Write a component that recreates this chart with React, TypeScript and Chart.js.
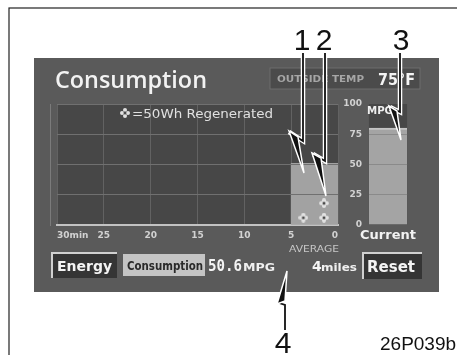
import React, { useEffect, useRef } from 'react';
import { Chart, registerables } from 'chart.js';

Chart.register(...registerables);

// ---- data ----
const intervalEnds = [25, 20, 15, 10, 5, 0]; // minutes ago (end of each 5-min slot)
const consumption: (number | null)[] = [null, null, null, null, null, 51]; // MPG per slot
const regenMinutes = [3.7, 1.5, 1.5]; // position of each 50Wh regenerated mark
const regenLevels = [6, 6, 18];
const currentLabels = ['Current'];
const currentMpg = [80];
const xTickValues = [0, 5, 10, 15, 20, 25, 30];
const xTickLabels = ['0', '5', '10', '15', '20', '25', '30min'];
const yTickValues = [0, 25, 50, 75, 100];

const plotBg = {
  id: 'plotBg',
  beforeDraw(chart: any, _args: any, opts: any) {
    const { ctx, chartArea: a } = chart;
    ctx.save();
    ctx.fillStyle = opts.color || '#474747';
    ctx.fillRect(a.left, a.top, a.right - a.left, a.bottom - a.top);
    ctx.restore();
  },
};

function makeRegenIcon() {
  const c = document.createElement('canvas');
  c.width = 10;
  c.height = 10;
  const g = c.getContext('2d')!;
  g.fillStyle = '#e2e2e2';
  const lobes = [
    [5, 2.2],
    [5, 7.8],
    [2.2, 5],
    [7.8, 5],
  ];
  for (const [x, y] of lobes) {
    g.beginPath();
    g.arc(x, y, 2.1, 0, Math.PI * 2);
    g.fill();
  }
  g.fillStyle = '#4a4a4a';
  g.beginPath();
  g.arc(5, 5, 1.5, 0, Math.PI * 2);
  g.fill();
  return c;
}

const tickFont = { family: 'DejaVu Sans', size: 9, weight: 'bold' as const };

export default function App() {
  const mainRef = useRef<HTMLCanvasElement>(null);
  const curRef = useRef<HTMLCanvasElement>(null);

  useEffect(() => {
    const icon = makeRegenIcon();
    const main = new Chart(mainRef.current!, {
      type: 'bar',
      data: {
        datasets: [
          {
            type: 'bar',
            order: 1,
            data: intervalEnds.map((e, i) => ({ x: e + 2.5, y: consumption[i] as any })),
            backgroundColor: '#a2a2a2',
            borderWidth: 0,
            barPercentage: 1,
            categoryPercentage: 1,
          } as any,
          {
            type: 'scatter',
            order: 0,
            data: regenMinutes.map((m, i) => ({ x: m, y: regenLevels[i] })),
            pointStyle: icon,
            pointRadius: 5,
          } as any,
        ],
      },
      options: {
        animation: false,
        responsive: false,
        layout: { padding: { left: 7, top: 8, right: 8, bottom: 11 } },
        plugins: {
          legend: { display: false },
          tooltip: { enabled: false },
          plotBg: { color: '#474747' },
        } as any,
        scales: {
          x: {
            type: 'linear',
            min: 0,
            max: 30,
            reverse: true,
            offset: false,
            afterFit: (s: any) => {
              s.height = 20;
            },
            afterBuildTicks: (s: any) => {
              s.ticks = xTickValues.map((v) => ({ value: v }));
            },
            ticks: {
              stepSize: 5,
              align: 'inner',
              padding: 5,
              color: '#d2d2d2',
              font: tickFont,
              maxRotation: 0,
              callback: (v: any) => {
                const i = xTickValues.indexOf(Number(v));
                return i >= 0 ? xTickLabels[i] : '';
              },
            },
            grid: { color: '#626262', drawTicks: false, lineWidth: 1, offset: false },
            border: { color: '#c2c2c2', width: 2 },
          },
          y: {
            position: 'right',
            min: 0,
            max: 100,
            afterFit: (s: any) => {
              s.width = 24;
            },
            afterBuildTicks: (s: any) => {
              s.ticks = yTickValues.map((v) => ({ value: v }));
            },
            ticks: {
              stepSize: 25,
              crossAlign: 'far',
              padding: 2,
              color: '#d2d2d2',
              font: tickFont,
            },
            grid: {
              color: (c: any) => (c.tick && c.tick.value === 0 ? 'rgba(0,0,0,0)' : '#707070'),
              drawTicks: false,
              z: 1,
            } as any,
            border: { color: '#9c9c9c', width: 1 },
          },
        },
      } as any,
      plugins: [plotBg as any],
    });

    const cur = new Chart(curRef.current!, {
      type: 'bar',
      data: {
        labels: currentLabels,
        datasets: [
          {
            data: currentMpg,
            backgroundColor: '#a4a4a4',
            borderColor: '#c4c4c4',
            borderWidth: { top: 2, left: 0, right: 0, bottom: 0 },
            borderSkipped: false,
            barPercentage: 1,
            categoryPercentage: 1,
          } as any,
        ],
      },
      options: {
        animation: false,
        responsive: false,
        layout: { padding: { left: 4, top: 8, right: 5, bottom: 11 } },
        plugins: {
          legend: { display: false },
          tooltip: { enabled: false },
          plotBg: { color: '#474747' },
        } as any,
        scales: {
          x: {
            type: 'category',
            afterFit: (s: any) => {
              s.height = 20;
            },
            ticks: {
              padding: 3,
              color: '#f2f2f2',
              font: { family: 'DejaVu Sans', size: 13, weight: 'bold' },
              maxRotation: 0,
            },
            grid: { display: false, drawTicks: false },
            border: { display: false },
          },
          y: {
            min: 0,
            max: 100,
            afterFit: (s: any) => {
              s.width = 0;
            },
            afterBuildTicks: (s: any) => {
              s.ticks = yTickValues.map((v) => ({ value: v }));
            },
            ticks: { display: false, stepSize: 25 },
            grid: {
              color: (c: any) => (c.tick && (c.tick.value === 0 || c.tick.value === 100) ? 'rgba(0,0,0,0)' : '#8a8a8a'),
              drawTicks: false,
              z: 1,
            } as any,
            border: { display: false },
          },
        },
      } as any,
      plugins: [plotBg as any],
    });

    return () => {
      main.destroy();
      cur.destroy();
    };
  }, []);

  const sans = 'DejaVu Sans, Liberation Sans, sans-serif';
  const outline = (d: string) => (
    <g>
      <path d={d} fill="none" stroke="#ffffff" strokeWidth={4.5} strokeLinejoin="miter" />
      <path d={d} fill="none" stroke="#111111" strokeWidth={1.8} strokeLinejoin="miter" />
    </g>
  );
  const wedge = (pts: string) => (
    <g>
      <polygon points={pts} fill="#111111" stroke="#ffffff" strokeWidth={1.5} />
    </g>
  );

  return (
    <div
      style={{
        position: 'fixed',
        left: 0,
        top: 0,
        width: 457,
        height: 355,
        overflow: 'hidden',
        background: '#ffffff',
      }}
    >
      <div
        style={{
          position: 'absolute',
          left: 34,
          top: 58,
          width: 405,
          height: 234,
          background: '#5a5a5a',
        }}
      />
      <canvas
        ref={mainRef}
        width={320}
        height={160}
        style={{ position: 'absolute', left: 50, top: 96, width: 320, height: 160 }}
      />
      <canvas
        ref={curRef}
        width={60}
        height={160}
        style={{ position: 'absolute', left: 358, top: 96, width: 60, height: 160 }}
      />
      <svg
        width={457}
        height={355}
        style={{ position: 'absolute', left: 0, top: 0, pointerEvents: 'none' }}
      >
        <rect x={9} y={8} width={470} height={370} fill="none" stroke="#222" strokeWidth={1.2} />

        {/* header */}
        <text
          x={55}
          y={88}
          fill="#f2f2f2"
          style={{ font: '600 24px "Open Sans", "DejaVu Sans", sans-serif' }}
          textLength={152}
          lengthAdjust="spacingAndGlyphs"
        >
          Consumption
        </text>
        <rect x={270} y={68} width={150} height={21} fill="#4b4b4b" stroke="#6c6c6c" strokeWidth={1} />
        <text
          x={277}
          y={82}
          fill="#a6a6a6"
          style={{ font: `bold 9px ${sans}` }}
          textLength={87}
          lengthAdjust="spacingAndGlyphs"
        >
          OUTSIDE TEMP
        </text>
        <text
          x={378}
          y={85}
          fill="#f4f4f4"
          style={{ font: `bold 16px ${sans}` }}
          textLength={37}
          lengthAdjust="spacingAndGlyphs"
        >
          75°F
        </text>

        {/* regen legend */}
        <g fill="#e0e0e0">
          <circle cx={125} cy={110} r={2} />
          <circle cx={125} cy={116} r={2} />
          <circle cx={122} cy={113} r={2} />
          <circle cx={128} cy={113} r={2} />
          <circle cx={125} cy={113} r={1.4} fill="#4a4a4a" />
        </g>
        <text
          x={132}
          y={118}
          fill="#e0e0e0"
          style={{ font: `13px ${sans}` }}
          textLength={141}
          lengthAdjust="spacingAndGlyphs"
        >
          =50Wh Regenerated
        </text>

        <text
          x={367}
          y={114}
          fill="#eeeeee"
          style={{ font: `bold 10px ${sans}` }}
          textLength={26}
          lengthAdjust="spacingAndGlyphs"
        >
          MPG
        </text>

        <text
          x={314}
          y={252}
          fill="#c8c8c8"
          textAnchor="middle"
          style={{ font: `9.5px ${sans}` }}
          textLength={50}
          lengthAdjust="spacingAndGlyphs"
        >
          AVERAGE
        </text>

        {/* bottom buttons */}
        <rect x={51} y={252} width={66} height={26} fill="#353535" />
        <path d="M52,278 L52,253 L117,253" fill="none" stroke="#d0d0d0" strokeWidth={2} />
        <text
          x={57}
          y={271}
          fill="#f4f4f4"
          style={{ font: `bold 14px ${sans}` }}
          textLength={55}
          lengthAdjust="spacingAndGlyphs"
        >
          Energy
        </text>

        <rect x={123} y={254} width={82} height={22} fill="#c4c4c4" />
        <text
          x={127}
          y={270}
          fill="#2a2a2a"
          style={{ font: `bold 12px "DejaVu Sans Condensed", "Liberation Sans Narrow", ${sans}` }}
          textLength={76}
          lengthAdjust="spacingAndGlyphs"
        >
          Consumption
        </text>

        <text
          x={208}
          y={271}
          fill="#f4f4f4"
          style={{ font: `bold 15px "DejaVu Sans Mono", monospace` }}
          textLength={34}
          lengthAdjust="spacingAndGlyphs"
        >
          50.6
        </text>
        <text
          x={243}
          y={271}
          fill="#f0f0f0"
          style={{ font: `bold 10px ${sans}` }}
          textLength={32}
          lengthAdjust="spacingAndGlyphs"
        >
          MPG
        </text>
        <text x={312} y={271} fill="#f4f4f4" style={{ font: `bold 14px ${sans}` }}>
          4
        </text>
        <text
          x={321}
          y={271}
          fill="#f0f0f0"
          style={{ font: `bold 11px ${sans}` }}
          textLength={36}
          lengthAdjust="spacingAndGlyphs"
        >
          miles
        </text>

        <rect x={362} y={252} width={60} height={27} fill="#353535" />
        <path d="M363,279 L363,253 L422,253" fill="none" stroke="#d0d0d0" strokeWidth={2} />
        <text
          x={367}
          y={272}
          fill="#f4f4f4"
          style={{ font: `bold 15px ${sans}` }}
          textLength={48}
          lengthAdjust="spacingAndGlyphs"
        >
          Reset
        </text>

        {/* callouts */}
        {outline('M303,53 L303,141 L289,132')}
        {wedge('289,131 298,137 304,173')}
        {outline('M325,53 L325,161 L313,154')}
        {wedge('312,153 321,158 326,196')}
        {outline('M400,53 L400,112 L390,107')}
        {wedge('389,106 397,111 401,140')}
        {outline('M285,330 L285,305 L279,303')}
        {wedge('277,304 285,301 287,271')}

        <g fill="#111" style={{ font: '30px "Liberation Sans", Arial, sans-serif' }} textAnchor="middle">
          <text x={302} y={50}>1</text>
          <text x={324} y={50}>2</text>
          <text x={401} y={50}>3</text>
          <text x={283} y={353}>4</text>
        </g>
        <text x={380} y={350} fill="#111" style={{ font: '19px "Liberation Sans", Arial, sans-serif' }}>
          26P039b
        </text>
      </svg>
    </div>
  );
}
